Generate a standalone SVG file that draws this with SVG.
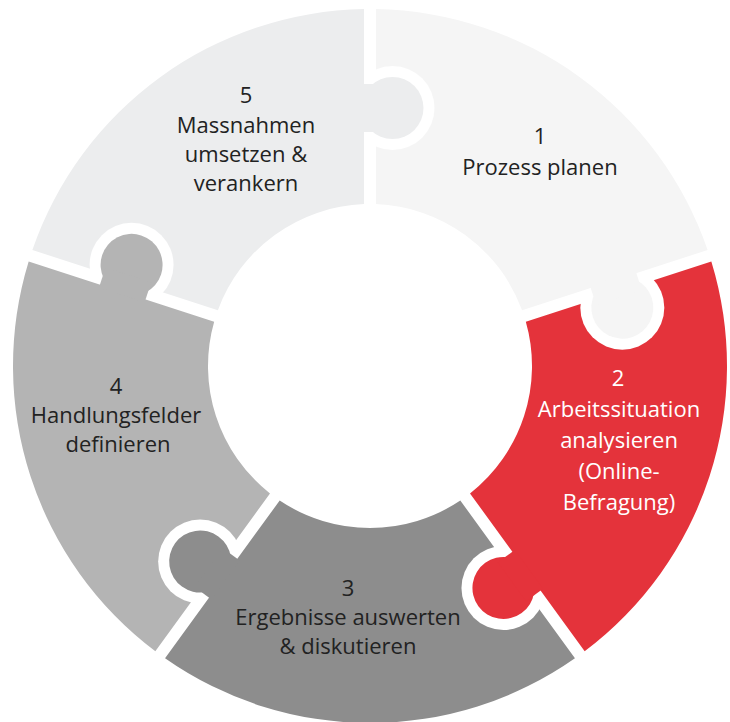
<svg xmlns="http://www.w3.org/2000/svg" width="730" height="722" viewBox="0 0 730 722">
<style>
text{font-family:"Open Sans","Noto Sans",sans-serif;font-size:22px;text-anchor:middle;fill:#222}
.p1{fill:#f5f5f5}.p2{fill:#e4333b}.p3{fill:#8d8d8d}.p4{fill:#b4b4b4}.p5{fill:#ecedee}
.lt{fill:#fff}
</style>
<defs>
<mask id="m1" maskUnits="userSpaceOnUse" x="0" y="0" width="730" height="722"><rect width="730" height="722" fill="#fff"/><circle cx="392.5" cy="108" r="42" fill="#000"/></mask>
<mask id="m2" maskUnits="userSpaceOnUse" x="0" y="0" width="730" height="722"><rect width="730" height="722" fill="#fff"/><circle cx="622.32" cy="307.67" r="42" fill="#000"/></mask>
<mask id="m3" maskUnits="userSpaceOnUse" x="0" y="0" width="730" height="722"><rect width="730" height="722" fill="#fff"/><circle cx="503.45" cy="587.96" r="42" fill="#000"/></mask>
<mask id="m4" maskUnits="userSpaceOnUse" x="0" y="0" width="730" height="722"><rect width="730" height="722" fill="#fff"/><circle cx="200.15" cy="561.5" r="42" fill="#000"/></mask>
<mask id="m5" maskUnits="userSpaceOnUse" x="0" y="0" width="730" height="722"><rect width="730" height="722" fill="#fff"/><circle cx="131.58" cy="264.87" r="42" fill="#000"/></mask>
<g id="knob"><circle cx="258" cy="22.5" r="31"/><rect x="234" y="-9" width="48" height="21"/></g>
</defs>
<rect width="730" height="722" fill="#fff"/>
<g id="piece1" class="p1">
<path mask="url(#m1)" d="M376,9.05 A357,357 0 0 1 707.63,249.99 L522.11,310.26 A162,162 0 0 0 376,204.11 Z"/>
<use href="#knob" transform="translate(370 366) rotate(-18)"/>
<text x="540" y="144">1</text>
<text x="540" y="175">Prozess planen</text>
</g>
<g id="piece2" class="p2">
<path mask="url(#m2)" d="M711.33,261.41 A357,357 0 0 1 584.66,651.25 L470.01,493.44 A162,162 0 0 0 525.82,321.68 Z"/>
<use href="#knob" transform="translate(370 366) rotate(54)"/>
<text class="lt" x="618" y="386">2</text>
<text class="lt" x="619" y="417">Arbeitssituation</text>
<text class="lt" x="619" y="448">analysieren</text>
<text class="lt" x="619" y="479">(Online-</text>
<text class="lt" x="619" y="510">Befragung)</text>
</g>
<g id="piece3" class="p3">
<path mask="url(#m3)" d="M574.96,658.31 A357,357 0 0 1 165.04,658.31 L279.69,500.5 A162,162 0 0 0 460.31,500.5 Z"/>
<use href="#knob" transform="translate(370 366) rotate(126)"/>
<text x="348" y="596">3</text>
<text x="348" y="625">Ergebnisse auswerten</text>
<text x="348" y="654">&amp; diskutieren</text>
</g>
<g id="piece4" class="p4">
<path mask="url(#m4)" d="M155.34,651.25 A357,357 0 0 1 28.67,261.41 L214.18,321.68 A162,162 0 0 0 269.99,493.44 Z"/>
<use href="#knob" transform="translate(370 366) rotate(198)"/>
<text x="116" y="394">4</text>
<text x="116" y="423">Handlungsfelder</text>
<text x="118" y="452">definieren</text>
</g>
<g id="piece5" class="p5">
<path mask="url(#m5)" d="M32.37,249.99 A357,357 0 0 1 364,9.05 L364,204.11 A162,162 0 0 0 217.88,310.26 Z"/>
<use href="#knob" transform="translate(370 366) rotate(270)"/>
<text x="246" y="103">5</text>
<text x="246" y="133">Massnahmen</text>
<text x="246" y="162">umsetzen &amp;</text>
<text x="246" y="191">verankern</text>
</g>
<g id="connectors"/>
</svg>
